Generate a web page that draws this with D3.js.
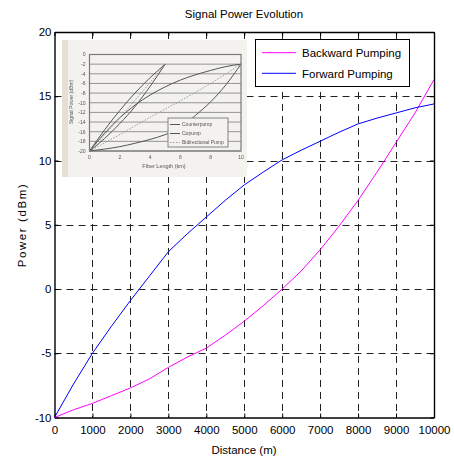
<!DOCTYPE html>
<html>
<head>
<meta charset="utf-8">
<script src="https://cdn.jsdelivr.net/npm/d3@7"></script>
<style>
  html, body { margin: 0; padding: 0; background: #fff; }
  svg { display: block; font-family: "Liberation Sans", Arial, sans-serif; }
</style>
</head>
<body>
<svg id="chart" width="454" height="459"></svg>
<script>
// ---- main chart data ----
const distance = [0, 500, 1000, 1500, 2000, 2500, 3000, 3500, 4000, 4500, 5000,
                  5500, 6000, 6500, 7000, 7500, 8000, 8500, 9000, 9500, 10000];
const backwardPumping = [-10, -9.4, -8.9, -8.3, -7.7, -7.0, -6.1, -5.3, -4.6, -3.6, -2.5,
                         -1.3, 0.0, 1.4, 3.05, 4.9, 6.9, 9.1, 11.4, 13.7, 16.3];
const forwardPumping = [-10, -7.4, -5.0, -2.9, -0.9, 1.0, 2.9, 4.3, 5.6, 6.9, 8.1,
                        9.1, 10.05, 10.8, 11.5, 12.2, 12.85, 13.3, 13.7, 14.1, 14.4];
const seriesNames = ["Backward Pumping", "Forward Pumping"];
const seriesColors = ["#ff00ff", "#0000ff"];
const xTicks = [0, 1000, 2000, 3000, 4000, 5000, 6000, 7000, 8000, 9000, 10000];
const yTicks = [-10, -5, 0, 5, 10, 15, 20];

// ---- embedded reference figure (fiber length in km, power in dBm) ----
const insetKm10 = [0, 1, 2, 3, 4, 5, 6, 7, 8, 9, 10];
const insetCopump10 = [-20, -16.3, -13.1, -10.5, -8.4, -6.7, -5.3, -4.2, -3.3, -2.5, -2];
const insetCounter10 = [-20, -19.6, -19.1, -18.4, -17.6, -16.6, -15.2, -12.6, -9.8, -6.3, -2];
const insetBidir10 = [-20, -18.3, -16.6, -14.8, -13.0, -11.3, -9.6, -7.8, -6.0, -4.0, -2];
const insetKm5 = [0, 1, 2, 3, 4, 5];
const insetCopump5 = [-20, -15.6, -11.6, -8.0, -4.8, -2];
const insetCounter5 = [-20, -17.4, -14.3, -10.8, -6.6, -2];
const insetBidir5 = [-20, -16.6, -13.1, -9.5, -5.8, -2];
const insetXTicks = [0, 2, 4, 6, 8, 10];
const insetYTicks = [0, -2, -4, -6, -8, -10, -12, -14, -16, -18, -20];
const insetLegend = ["Counterpump", "Copump", "Bidirectional Pump"];

const svg = d3.select("#chart");

const x = d3.scaleLinear().domain([0, 10000]).range([54.5, 434]);
const y = d3.scaleLinear().domain([-10, 20]).range([417.5, 32]);

// dashed grid
const grid = svg.append("g").attr("stroke", "#222").attr("stroke-width", 1)
  .attr("stroke-dasharray", "7,5").attr("fill", "none");
grid.selectAll("line.gx").data(xTicks.slice(1, -1)).join("line").attr("class", "gx")
  .attr("x1", d => Math.round(x(d)) + 0.5).attr("x2", d => Math.round(x(d)) + 0.5)
  .attr("y1", y(20)).attr("y2", y(-10));
grid.selectAll("line.gy").data(yTicks.slice(1, -1)).join("line").attr("class", "gy")
  .attr("y1", d => Math.round(y(d)) + 0.5).attr("y2", d => Math.round(y(d)) + 0.5)
  .attr("x1", x(0)).attr("x2", x(10000));

// axes with inward ticks on all four sides
const fmt = d => String(d);
const axB = svg.append("g").attr("transform", `translate(0,${y(-10)})`)
  .call(d3.axisBottom(x).tickValues(xTicks).tickFormat(fmt).tickSizeInner(-4).tickSizeOuter(0).tickPadding(8));
const axT = svg.append("g").attr("transform", `translate(0,${y(20)})`)
  .call(d3.axisTop(x).tickValues(xTicks).tickFormat("").tickSizeInner(-4).tickSizeOuter(0));
const axL = svg.append("g").attr("transform", `translate(${x(0)},0)`)
  .call(d3.axisLeft(y).tickValues(yTicks).tickFormat(fmt).tickSizeInner(-4).tickSizeOuter(0).tickPadding(3));
const axR = svg.append("g").attr("transform", `translate(${x(10000)},0)`)
  .call(d3.axisRight(y).tickValues(yTicks).tickFormat("").tickSizeInner(-4).tickSizeOuter(0));
[axB, axT, axL, axR].forEach(a => {
  a.select(".domain").attr("stroke", "#000").attr("stroke-width", 1.4);
  a.selectAll(".tick line").attr("stroke", "#000");
  a.selectAll("text").attr("font-size", 11.5).attr("fill", "#000")
    .attr("font-family", "'Liberation Sans', Arial, sans-serif");
});

// data lines
const line = d3.line().x((d, i) => x(distance[i])).y(d => y(d));
[backwardPumping, forwardPumping].forEach((s, k) => {
  svg.append("path").datum(s).attr("d", line).attr("fill", "none")
    .attr("stroke", seriesColors[k]).attr("stroke-width", 1);
});

// embedded figure
const inset = svg.append("g").attr("filter", "url(#soft)");
const defs = svg.append("defs");
defs.append("filter").attr("id", "soft").append("feGaussianBlur").attr("stdDeviation", 0.45);
inset.append("rect").attr("x", 62).attr("y", 40).attr("width", 185).attr("height", 137).attr("fill", "#f3f2ef");
inset.append("rect").attr("x", 62).attr("y", 40).attr("width", 6).attr("height", 137).attr("fill", "#e6dfd2");
const ix = d3.scaleLinear().domain([0, 10]).range([89.5, 241]);
const iy = d3.scaleLinear().domain([-20, 0]).range([151, 54.5]);
inset.append("g").selectAll("line").data(insetYTicks).join("line")
  .attr("x1", ix(0)).attr("x2", ix(10)).attr("y1", d => iy(d)).attr("y2", d => iy(d))
  .attr("stroke", "#8a8a8a").attr("stroke-width", 0.9);
inset.append("rect").attr("x", ix(0)).attr("y", iy(0)).attr("width", ix(10) - ix(0))
  .attr("height", iy(-20) - iy(0)).attr("fill", "none").attr("stroke", "#7a7a7a").attr("stroke-width", 1.2);
inset.append("g").selectAll("text").data(insetYTicks).join("text")
  .attr("x", ix(0) - 4).attr("y", d => iy(d) + 1.8).attr("text-anchor", "end")
  .attr("font-size", 5).attr("fill", "#555").text(d => d);
inset.append("g").selectAll("text").data(insetXTicks).join("text")
  .attr("x", d => ix(d)).attr("y", iy(-20) + 8).attr("text-anchor", "middle")
  .attr("font-size", 5).attr("fill", "#555").text(d => d);
inset.append("text").attr("x", 164).attr("y", 168).attr("text-anchor", "middle")
  .attr("font-size", 5.5).attr("fill", "#555").text("Fiber Length (km)");
inset.append("text").attr("transform", "translate(73,102) rotate(-90)").attr("text-anchor", "middle")
  .attr("font-size", 5).attr("fill", "#555").text("Signal Power (dBm)");
const iline10 = d3.line().curve(d3.curveMonotoneX).x((d, i) => ix(insetKm10[i])).y(d => iy(d));
const iline5 = d3.line().curve(d3.curveMonotoneX).x((d, i) => ix(insetKm5[i])).y(d => iy(d));
[[insetCopump10, iline10, null], [insetCounter10, iline10, null], [insetBidir10, iline10, "1.5,1.5"],
 [insetCopump5, iline5, null], [insetCounter5, iline5, null], [insetBidir5, iline5, "1.5,1.5"]]
  .forEach(([s, gen, dash]) => {
    inset.append("path").datum(s).attr("d", gen).attr("fill", "none")
      .attr("stroke", dash ? "#999" : "#555").attr("stroke-width", 1)
      .attr("stroke-dasharray", dash);
  });
const ilg = inset.append("g");
ilg.append("rect").attr("x", 168).attr("y", 118).attr("width", 60).attr("height", 29)
  .attr("fill", "#f3f2ef").attr("stroke", "#777").attr("stroke-width", 0.9);
insetLegend.forEach((name, i) => {
  const yy = 124.5 + i * 9;
  ilg.append("line").attr("x1", 170).attr("x2", 180).attr("y1", yy).attr("y2", yy)
    .attr("stroke", i === 2 ? "#999" : "#555").attr("stroke-dasharray", i === 2 ? "1.5,1.5" : null);
  ilg.append("text").attr("x", 182).attr("y", yy + 1.8).attr("font-size", 5).attr("fill", "#555").text(name);
});

// legend
const lg = svg.append("g");
lg.append("rect").attr("x", 255.5).attr("y", 39.5).attr("width", 154).attr("height", 47)
  .attr("fill", "#fff").attr("stroke", "#000").attr("stroke-width", 1);
seriesNames.forEach((name, i) => {
  const yy = 52.7 + i * 20.6;
  lg.append("line").attr("x1", 262).attr("x2", 296).attr("y1", yy).attr("y2", yy)
    .attr("stroke", seriesColors[i]).attr("stroke-width", 1);
  lg.append("text").attr("x", 302).attr("y", yy + 4.2).attr("font-size", 11.5).attr("fill", "#000").text(name);
});

// titles
svg.append("text").attr("x", 244).attr("y", 18).attr("text-anchor", "middle")
  .attr("font-size", 11.5).attr("fill", "#000").text("Signal Power Evolution");
svg.append("text").attr("x", 244).attr("y", 454).attr("text-anchor", "middle")
  .attr("font-size", 11.5).attr("fill", "#000").text("Distance (m)");
svg.append("text").attr("transform", "translate(26,225) rotate(-90)").attr("text-anchor", "middle")
  .attr("font-size", 11.5).attr("letter-spacing", 1.6).attr("fill", "#000").text("Power (dBm)");
</script>
</body>
</html>
